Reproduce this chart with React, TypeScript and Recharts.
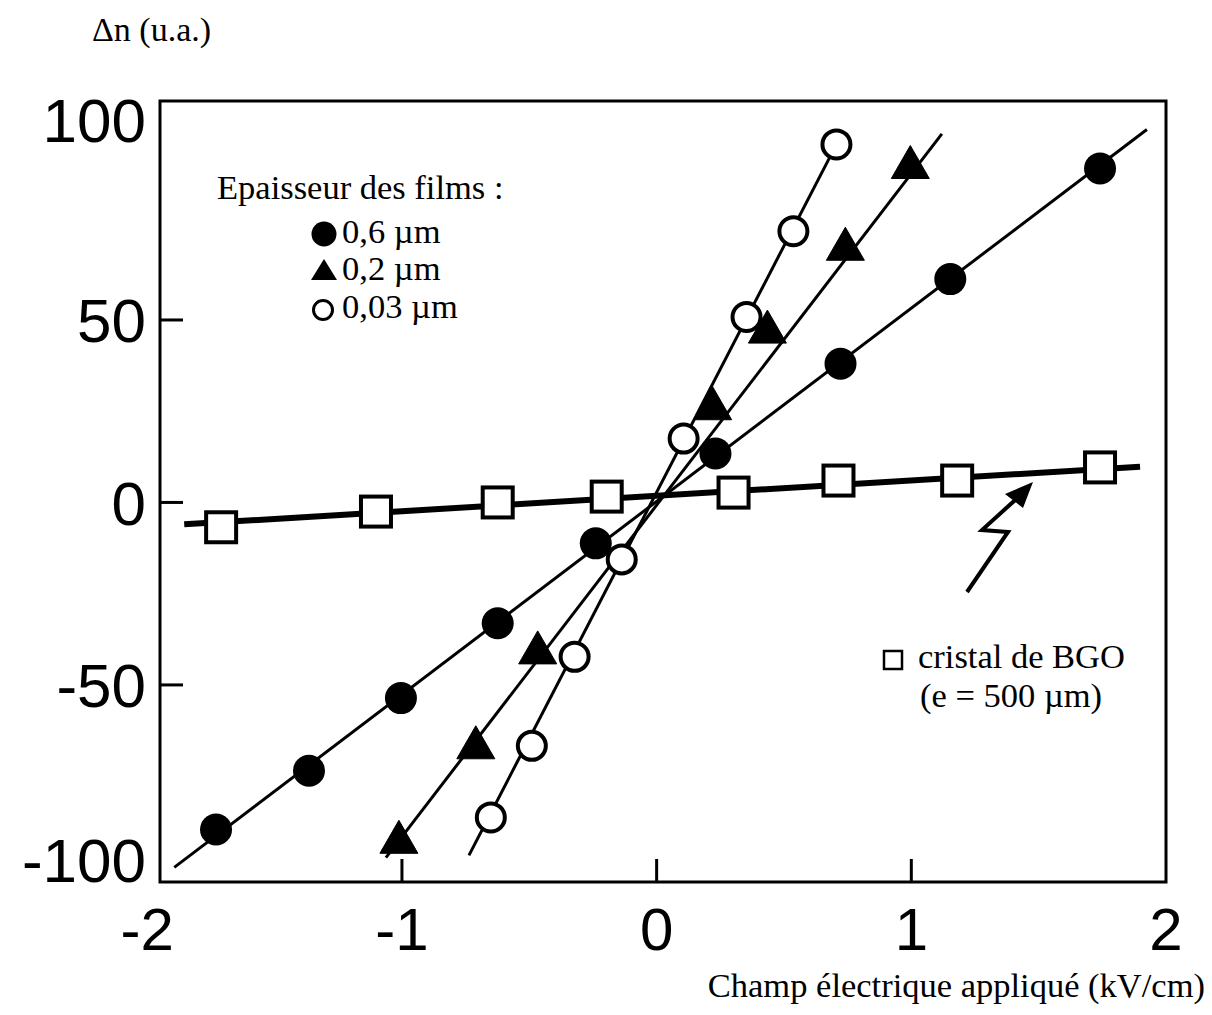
import React from 'react';
import { ScatterChart, Scatter, XAxis, YAxis, ReferenceArea } from 'recharts';

// ---- data ----
const xTicks = [-2, -1, 0, 1, 2];
const yTicks = [-100, -50, 0, 50, 100];

// 0,6 µm film (filled circles)
const film06X = [-1.73, -1.365, -1.004, -0.624, -0.239, 0.231, 0.722, 1.153, 1.741];
const film06Y = [-89.6, -73.5, -53.6, -33.1, -11.2, 13.4, 38.0, 61.2, 91.5];
const fit06X = [-1.894, 1.925];
const fit06Y = [-100, 102.2];

// 0,2 µm film (filled triangles)
const film02X = [-1.012, -0.71, -0.467, 0.22, 0.435, 0.741, 0.996];
const film02Y = [-92.3, -66.4, -40.4, 26.5, 47.5, 70.2, 92.6];
const fit02X = [-1.063, 1.12];
const fit02Y = [-97.3, 101];

// 0,03 µm film (open circles)
const film003X = [-0.651, -0.49, -0.322, -0.137, 0.106, 0.353, 0.537, 0.706];
const film003Y = [-86.3, -66.7, -42.3, -15.6, 17.5, 50.8, 74.3, 98.1];
const fit003X = [-0.737, 0.706];
const fit003Y = [-96.7, 98.1];

// BGO crystal (open squares)
const bgoX = [-1.71, -1.102, -0.624, -0.196, 0.302, 0.714, 1.18, 1.741];
const bgoY = [-6.8, -2.5, 0, 1.6, 2.7, 6.0, 6.0, 9.6];
const fitBgoX = [-1.855, 1.898];
const fitBgoY = [-6.0, 9.8];

const legendTitle = 'Epaisseur des films :';
const legendLabels = ['0,6 µm', '0,2 µm', '0,03 µm'];
const bgoLabel1 = 'cristal de BGO';
const bgoLabel2 = '(e = 500 µm)';
const yTitle = 'Δn (u.a.)';
const xTitle = 'Champ électrique appliqué (kV/cm)';

const X_DOMAIN: [number, number] = [-1.95, 2.0];
const Y_DOMAIN: [number, number] = [-104, 110];

const zip = (xs: number[], ys: number[]) => xs.map((x, i) => ({ x, y: ys[i] }));

// ---- layout ----
const W = 1200;
const H = 1000;
const PLOT_L = 152;
const PLOT_T = 93;
const PLOT_R = 1158;
const XAXIS_H = 126;
const PLOT_B = H - XAXIS_H;

const SANS = '"Liberation Sans", Arial, Helvetica, sans-serif';
const SERIF = '"Liberation Serif", "Times New Roman", Times, serif';

const XTick = (props: any) => {
  const { x, payload } = props;
  const v = payload.value;
  const inner = v > -2 && v < 2;
  return (
    <g>
      {inner && <line x1={x} x2={x} y1={PLOT_B} y2={PLOT_B - 23} stroke="#000" strokeWidth={3} />}
      <text x={x} y={PLOT_B + 68} textAnchor="middle" fontFamily={SANS} fontSize={60} fill="#000">
        {v}
      </text>
    </g>
  );
};

const YTick = (props: any) => {
  const { y, payload } = props;
  const v = payload.value;
  const inner = v > -100 && v < 100;
  const shift = v === 100 ? -18 : v === -100 ? -8 : 0;
  return (
    <g>
      {inner && <line x1={PLOT_L} x2={PLOT_L + 23} y1={y} y2={y} stroke="#000" strokeWidth={3} />}
      <text x={PLOT_L - 14} y={y + shift} dy="0.36em" textAnchor="end" fontFamily={SANS} fontSize={62} fill="#000">
        {v}
      </text>
    </g>
  );
};

const FilledCircle = (p: any) => <circle cx={p.cx} cy={p.cy} r={16} fill="#000" />;
const Triangle = (p: any) => (
  <polygon
    points={`${p.cx},${p.cy - 19} ${p.cx - 19},${p.cy + 14} ${p.cx + 19},${p.cy + 14}`}
    fill="#000"
    stroke="#000"
    strokeWidth={1}
  />
);
const OpenCircle = (p: any) => <circle cx={p.cx} cy={p.cy} r={14} fill="#fff" stroke="#000" strokeWidth={4} />;
const OpenSquare = (p: any) => (
  <rect x={p.cx - 15} y={p.cy - 15} width={30} height={30} fill="#fff" stroke="#000" strokeWidth={4} />
);
const NoShape = () => <g />;

export default function App() {
  return (
    <div style={{ position: 'relative', width: W, height: H, background: '#fff' }}>
      <ScatterChart width={W} height={H} margin={{ top: PLOT_T, right: W - PLOT_R, bottom: 0, left: 0 }}>
        <XAxis
          type="number"
          dataKey="x"
          domain={X_DOMAIN}
          allowDataOverflow
          ticks={xTicks}
          interval={0}
          height={XAXIS_H}
          axisLine={false}
          tickLine={false}
          tick={<XTick />}
        />
        <YAxis
          type="number"
          dataKey="y"
          domain={Y_DOMAIN}
          allowDataOverflow
          ticks={yTicks}
          interval={0}
          width={PLOT_L}
          axisLine={false}
          tickLine={false}
          tick={<YTick />}
        />
        <ReferenceArea
          x1={X_DOMAIN[0]}
          x2={X_DOMAIN[1]}
          y1={Y_DOMAIN[0]}
          y2={Y_DOMAIN[1]}
          fill="none"
          fillOpacity={0}
          stroke="#000"
          strokeWidth={3}
        />
        <Scatter data={zip(fit06X, fit06Y)} line={{ stroke: '#000', strokeWidth: 3 }} shape={NoShape} isAnimationActive={false} />
        <Scatter data={zip(fit02X, fit02Y)} line={{ stroke: '#000', strokeWidth: 3 }} shape={NoShape} isAnimationActive={false} />
        <Scatter data={zip(fit003X, fit003Y)} line={{ stroke: '#000', strokeWidth: 3 }} shape={NoShape} isAnimationActive={false} />
        <Scatter data={zip(fitBgoX, fitBgoY)} line={{ stroke: '#000', strokeWidth: 6 }} shape={NoShape} isAnimationActive={false} />
        <Scatter data={zip(film06X, film06Y)} shape={FilledCircle} isAnimationActive={false} />
        <Scatter data={zip(film02X, film02Y)} shape={Triangle} isAnimationActive={false} />
        <Scatter data={zip(film003X, film003Y)} shape={OpenCircle} isAnimationActive={false} />
        <Scatter data={zip(bgoX, bgoY)} shape={OpenSquare} isAnimationActive={false} />
      </ScatterChart>
      <svg
        width={W}
        height={H}
        style={{ position: 'absolute', left: 0, top: 0, pointerEvents: 'none' }}
      >
        <text x={84} y={33} fontFamily={SERIF} fontSize={34} fill="#000">{yTitle}</text>
        <text x={1197} y={989} textAnchor="end" fontFamily={SERIF} fontSize={34.5} fill="#000">{xTitle}</text>

        <text x={209} y={191} fontFamily={SERIF} fontSize={34.5} fill="#000">{legendTitle}</text>
        <circle cx={316} cy={226} r={12.5} fill="#000" />
        <text x={334} y={235} fontFamily={SERIF} fontSize={34.5} fill="#000">{legendLabels[0]}</text>
        <polygon points="316,251 303,272 329,272" fill="#000" />
        <text x={334} y={272} fontFamily={SERIF} fontSize={34.5} fill="#000">{legendLabels[1]}</text>
        <circle cx={315} cy={302} r={9.5} fill="#fff" stroke="#000" strokeWidth={3} />
        <text x={334} y={310} fontFamily={SERIF} fontSize={34.5} fill="#000">{legendLabels[2]}</text>

        <rect x={876} y={643} width={18} height={18} fill="#fff" stroke="#000" strokeWidth={2.5} />
        <text x={910} y={660} fontFamily={SERIF} fontSize={34.5} fill="#000">{bgoLabel1}</text>
        <text x={912} y={699} fontFamily={SERIF} fontSize={34.5} fill="#000">{bgoLabel2}</text>

        <polyline
          points="959,584 1000,524 974,522 1016,484"
          fill="none"
          stroke="#000"
          strokeWidth={4}
          strokeLinejoin="miter"
        />
        <polygon points="1025,474 997,486 1015,500" fill="#000" />
      </svg>
    </div>
  );
}
